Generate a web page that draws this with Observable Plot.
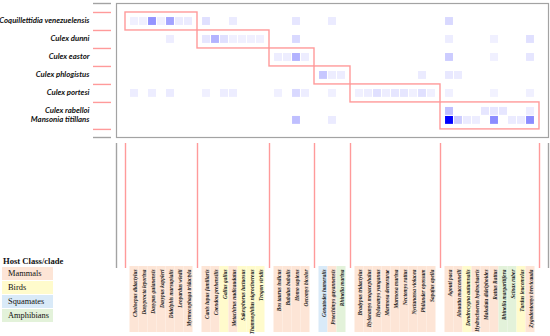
<!DOCTYPE html>
<html><head><meta charset="utf-8">
<script src="https://cdn.jsdelivr.net/npm/d3@7"></script>
<script src="https://cdn.jsdelivr.net/npm/@observablehq/plot@0.6"></script>
<style>
body{margin:0;background:#fff;}
#wrap{position:relative;width:550px;height:336px;overflow:hidden;background:#fff;}
#wrap .p{position:absolute;left:0;}
#legend{position:absolute;left:2px;top:256px;font-family:"Liberation Serif","Times New Roman",serif;color:#111;}
#legend .lt{font-weight:bold;font-size:8.6px;margin-left:1px;line-height:11px;}
#legend .li{width:51px;height:13px;margin-bottom:1px;font-size:8.4px;line-height:13px;padding-left:6px;box-sizing:border-box;}
</style></head><body><div id="wrap"></div>
<script>
const mosquitoes = ["Coquillettidia venezuelensis","Culex dunni","Culex eastor","Culex phlogistus","Culex portesi","Culex rabelloi","Mansonia titillans"];
const mosquitoCluster = [1,2,3,4,5,6,6];

const hosts = [
 "Choloepus didactylus","Dasyprocta leporina","Dasypus guianensis","Dasypus kappleri","Didelphis marsupialis","Leopardus wiedii","Myrmecophaga tridactyla",
 "Canis lupus familiaris","Coendou prehensilis","Gallus gallus","Metachirus nudicaudatus","Sakesphorus luctuosus","Thamnophilus nigrocinereus","Trogon viridis",
 "Bos taurus indicus","Bubalus bubalis","Homo sapiens","Oecomys bicolor",
 "Gonatodes humeralis","Proechimys guyannensis","Rhinella marina",
 "Bradypus tridactylus","Hylaeamys megacephalus","Hylaeamys yunganus","Marmosa demerarae","Marmosa murina","Nectomys rattus","Nyctanassa violacea","Philander opossum","Sapajus apella",
 "Agouti paca","Alouatta macconnelli","Dendrocygna autumnalis","Hydrochoerus hydrochaeris","Makalata didelphoides","Rattus Rattus","Rhinella margaritifera","Scinax ruber","Turdus leucomelas","Zygodontomys brevicauda"
];
const hostClass = [
 "Mammals","Mammals","Mammals","Mammals","Mammals","Mammals","Mammals",
 "Mammals","Mammals","Birds","Mammals","Birds","Birds","Birds",
 "Mammals","Mammals","Mammals","Mammals",
 "Squamates","Mammals","Amphibians",
 "Mammals","Mammals","Mammals","Mammals","Mammals","Mammals","Mammals","Mammals","Mammals",
 "Mammals","Mammals","Birds","Mammals","Mammals","Mammals","Amphibians","Amphibians","Birds","Mammals"
];
const hostCluster = [1,1,1,1,1,1,1, 2,2,2,2,2,2,2, 3,3,3,3, 4,4,4, 5,5,5,5,5,5,5,5,5, 6,6,6,6,6,6,6,6,6,6];

const classes = ["Mammals","Birds","Squamates","Amphibians"];
const classColors = ["#fde5d6","#fffbcc","#d9eaf8","#e3f2da"];

// relative feeding intensity (0 = none, 1 = strongest), one list per mosquito, one entry per host
const vCoquillettidia = [.06,.06,.42,.06,.36,.08,.08, .12,0,0,.08,0,0,0, 0,0,.10,0, 0,.08,0, 0,0,0,0,0,0,0,0,0, .15,0,0,0,0,0,0,0,0,0];
const vDunni          = [0,0,0,0,.07,0,0, .10,.30,.12,.06,.06,.06,.06, 0,0,.15,0, 0,0,0, 0,0,0,0,0,0,0,0,0, .07,0,0,0,0,.06,0,0,0,.12];
const vEastor         = [0,0,0,0,0,0,0, 0,0,0,0,0,0,0, .07,.07,.30,.07, 0,0,0, 0,0,0,0,0,0,0,0,0, .20,0,0,0,0,.06,0,0,0,.10];
const vPhlogistus     = [0,0,0,0,0,0,0, 0,0,0,0,0,0,0, 0,0,0,0, .22,.07,.07, 0,0,0,0,0,0,0,.08,0, .09,.08,0,0,0,0,0,0,0,0];
const vPortesi        = [.07,0,.07,0,.08,0,0, .06,0,.07,.07,0,0,0, .06,0,.15,.07, 0,.06,0, .06,.07,.12,.07,.10,.10,.06,.12,.06, .06,0,0,0,0,.05,0,0,0,.06];
const vRabelloi       = [0,0,0,0,0,0,0, 0,0,0,0,0,0,0, 0,0,0,0, 0,0,0, 0,0,0,0,0,0,0,0,0, .25,0,0,0,.10,.10,.10,0,0,.07];
const vMansonia       = [0,0,0,0,0,0,0, 0,0,0,0,0,0,0, 0,0,.25,0, 0,.08,0, 0,0,0,0,0,0,0,0,0, 1.0,.20,.08,.07,0,.45,0,.08,.08,.45];
const values = [vCoquillettidia, vDunni, vEastor, vPhlogistus, vPortesi, vRabelloi, vMansonia];

// ---- layout derived from the clusters ----
let s = 0, prev = hostCluster[0];
const hostSlot = hosts.map((h, i) => { if (hostCluster[i] !== prev) { s++; prev = hostCluster[i]; } return s++; });
const clusterIds = [...new Set(hostCluster)];
const hostBoxes = clusterIds.map(c => {
  const sl = hostSlot.filter((_, i) => hostCluster[i] === c);
  return {c, x1: d3.min(sl) - 1, x2: d3.max(sl) + 1};
});
const rowPos = [];
let cur = -0.5;
const mBoxes = clusterIds.map(c => {
  const top = cur;
  const mem = mosquitoes.map((m, i) => i).filter(i => mosquitoCluster[i] === c);
  mem.forEach((m, k) => rowPos[m] = top + 0.5 + 0.5 * k);
  const bottom = top + 0.5 + 0.5 * mem.length;
  cur = bottom;
  return {c, y1: top, y2: bottom};
});
const boxes = clusterIds.map((c, k) => ({...hostBoxes[k], ...mBoxes[k]}));
const xDomain = [hostBoxes[0].x1 - 1, hostBoxes[hostBoxes.length - 1].x2 + 1];
const yDomain = [mBoxes[0].y1 - 0.5, mBoxes[mBoxes.length - 1].y2 + 0.45];
const rowBounds = [mBoxes[0].y1, ...mBoxes.map(b => b.y2)];
const colBounds = [hostBoxes[0].x1, ...hostBoxes.map(b => b.x2)];

const cells = [];
values.forEach((row, r) => row.forEach((v, h) => { if (v > 0) cells.push({r, h, v}); }));
const hostData = hosts.map((name, i) => ({name, cls: hostClass[i], slot: hostSlot[i]}));
const mosqData = mosquitoes.map((name, i) => ({name, y: rowPos[i]}));

const red = "#ff9a9a", gray = "#a3a3a3";
const common = {width: 550, marginLeft: 116, marginRight: 2, style: {background: "transparent", overflow: "visible"}};

const heat = Plot.plot({
  ...common, height: 140, marginTop: 3, marginBottom: 3,
  x: {domain: xDomain, axis: null},
  y: {domain: yDomain, reverse: true},
  color: {type: "linear", domain: [0, 1], range: ["#ffffff", "#0000ff"]},
  marks: [
    Plot.rect(cells, {x1: d => hostSlot[d.h] - 0.44, x2: d => hostSlot[d.h] + 0.44,
      y1: d => rowPos[d.r] - 0.22, y2: d => rowPos[d.r] + 0.22, fill: "v"}),
    Plot.rect(boxes, {x1: "x1", x2: "x2", y1: "y1", y2: "y2", fill: "none", stroke: red, strokeWidth: 1.4}),
    Plot.frame({stroke: gray, strokeWidth: 1.2}),
    Plot.axisY(rowBounds, {tickSize: 18, dx: -5, stroke: red, strokeWidth: 1.4, tickFormat: () => "", label: null}),
    Plot.axisY(yDomain, {tickSize: 18, dx: -5, stroke: gray, strokeWidth: 1.4, tickFormat: () => "", label: null}),
    Plot.text(mosqData, {y: "y", text: "name", frameAnchor: "left", dx: -27, dy: -0.5, textAnchor: "end",
      fontFamily: "Lato", fontStyle: "italic", fontWeight: "bold", fontSize: 7.8, fill: "#111"})
  ]
});

const mid = Plot.plot({
  ...common, height: 128, marginTop: 3, marginBottom: 0,
  x: {domain: xDomain, axis: null},
  marks: [
    Plot.ruleX(colBounds, {stroke: red, strokeWidth: 1.4}),
    Plot.ruleX(xDomain, {stroke: gray, strokeWidth: 1.4})
  ]
});

const lab = Plot.plot({
  ...common, height: 70, marginTop: 0, marginBottom: 4,
  x: {domain: xDomain, axis: null},
  color: {domain: classes, range: classColors},
  marks: [
    Plot.rect(hostData, {x1: d => d.slot - 0.5, x2: d => d.slot + 0.5, fill: "cls"}),
    Plot.text(hostData, {x: "slot", text: "name", frameAnchor: "top", rotate: -90, textAnchor: "end", dy: 3, dx: -1,
      fontFamily: "Liberation Serif", fontStyle: "italic", fontWeight: "bold", fontSize: 5.4, fill: "#222"})
  ]
});

const wrap = document.getElementById("wrap");
[[heat, 0], [mid, 140], [lab, 266]].forEach(([el, top]) => {
  const d = document.createElement("div"); d.className = "p"; d.style.top = top + "px"; d.appendChild(el); wrap.appendChild(d);
});
const lg = document.createElement("div"); lg.id = "legend";
lg.innerHTML = `<div class="lt">Host Class/clade</div>` +
  classes.map((c, i) => `<div class="li" style="background:${classColors[i]}">${c}</div>`).join("");
wrap.appendChild(lg);
</script></body></html>
